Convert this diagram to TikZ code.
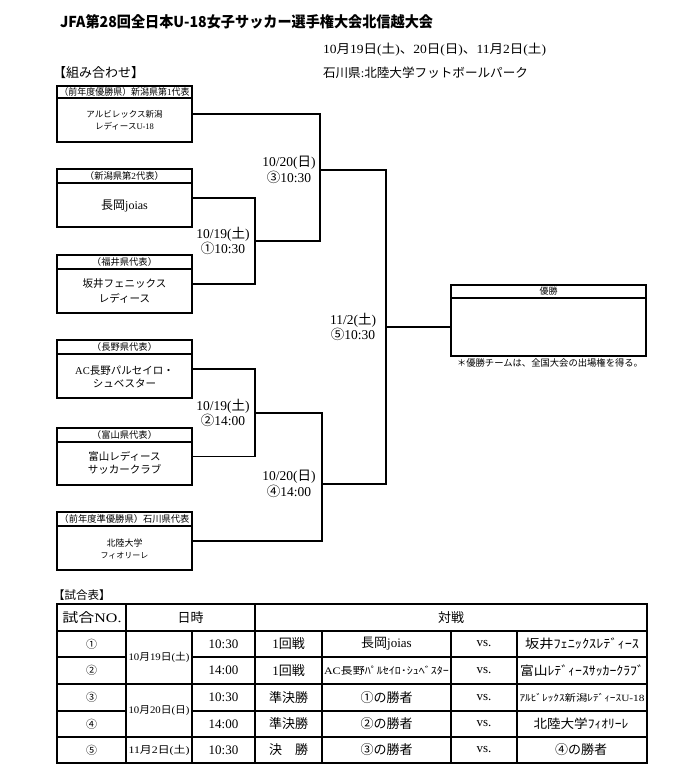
\documentclass[tikz,border=0pt]{standalone}
\usepackage{fontspec}
\usepackage{graphicx}
\setmainfont{Liberation Serif}
\newfontfamily\jpfont{Noto Sans CJK JP}
\XeTeXinterchartokenstate=1
\newXeTeXintercharclass\jpcls
\newcount\jpc
\def\setjprange#1#2{\jpc=#1\relax\loop\XeTeXcharclass\jpc=\jpcls\relax\ifnum\jpc<#2\relax\advance\jpc by 1\relax\repeat}
\setjprange{"3000}{"9FFF}
\setjprange{"FF00}{"FFEF}
\setjprange{"2460}{"24FF}
\XeTeXinterchartoks 0 \jpcls = {\jpfont}
\XeTeXinterchartoks 4095 \jpcls = {\jpfont}
\XeTeXinterchartoks \jpcls 0 = {\rmfamily}
\XeTeXinterchartoks 4095 0 = {\rmfamily}
\newcommand\fitw[2]{\resizebox{#1}{\height}{#2}}
\begin{document}
\begin{tikzpicture}[x=1pt,y=-1pt,
  every node/.style={inner sep=0pt, outer sep=0pt},
  fs/.style 2 args={font=\fontsize{#1}{#2}\selectfont},
  teambox/.style={draw, line width=1.4pt, minimum width=135pt},
  hdrbox/.style={draw, line width=1.1pt, minimum width=135pt, minimum height=14pt, anchor=north, fs={9.3}{11}},
  namebox/.style={align=center},
  bracket/.style={line width=1.5pt},
  matchlbl/.style={align=center, fs={13.5}{15.5}},
  tline/.style={line width=1.4pt},
  cell/.style={fs={13}{15}},
]
\useasboundingbox (0,0) rectangle (700,783);

% headings
\node[anchor=west, fs={15}{17}] (title) at (60,22) {\fitw{373pt}{\XeTeXinterchartokenstate=0 \jpfont\bfseries JFA第28回全日本U-18女子サッカー選手権大会北信越大会}};
\node[anchor=west, fs={12.5}{14}] (dates) at (323,50) {\fitw{223pt}{10月19日(土)、20日(日)、11月2日(土)}};
\node[anchor=west, fs={12.5}{14}] (venue) at (323,73) {\fitw{205pt}{石川県:北陸大学フットボールパーク}};
\node[anchor=west, fs={13}{15}] (kumi) at (53,73) {【組み合わせ】};

% team boxes
\node[teambox, minimum height=56pt] (t1) at (124.5,114) {};
\node[hdrbox, minimum height=12pt] (h1) at (t1.north) {\fitw{130pt}{（前年度優勝県）新潟県第1代表}};
\node[namebox, fs={8.5}{12}] (n1) at (124.5,120) {アルビレックス新潟\\レディースU-18};

\node[teambox, minimum height=58pt] (t2) at (124.5,198) {};
\node[hdrbox] (h2) at (t2.north) {（新潟県第2代表）};
\node[namebox, fs={12}{14}] (n2) at (124.5,206) {長岡joias};

\node[teambox, minimum height=58pt] (t3) at (124.5,284) {};
\node[hdrbox] (h3) at (t3.north) {（福井県代表）};
\node[namebox, fs={10.5}{15}] (n3) at (124.5,291) {坂井フェニックス\\レディース};

\node[teambox, minimum height=58pt] (t4) at (124.5,369) {};
\node[hdrbox] (h4) at (t4.north) {（長野県代表）};
\node[namebox, fs={10.5}{13}] (n4) at (124.5,377) {AC長野パルセイロ・\\シュベスター};

\node[teambox, minimum height=57pt] (t5) at (124.5,456.5) {};
\node[hdrbox] (h5) at (t5.north) {（富山県代表）};
\node[namebox, fs={10.5}{13}] (n5) at (124.5,463) {富山レディース\\サッカークラブ};

\node[teambox, minimum height=58pt] (t6) at (124.5,541) {};
\node[hdrbox] (h6) at (t6.north) {\fitw{130pt}{（前年度準優勝県）石川県代表}};
\node[namebox, fs={9}{12}] (n6) at (124.5,549) {北陸大学\\{\fontsize{8}{12}\selectfont フィオリーレ}};

% winner box
\node[draw, line width=1.4pt, minimum width=195pt, minimum height=71pt] (w) at (548.5,320.5) {};
\node[draw, line width=1.1pt, minimum width=195pt, minimum height=13pt, anchor=north, fs={9}{11}] (wh) at (w.north) {優勝};
\node[fs={9.3}{11}] (note) at (550,363) {\fitw{186pt}{＊優勝チームは、全国大会の出場権を得る。}};

% bracket
\coordinate (m1) at (255,241);
\coordinate (m2) at (255,413);
\coordinate (m3) at (320,170);
\coordinate (m4) at (322,484);
\coordinate (m5) at (386,327);
\draw[bracket] (t2.east) -| (m1) |- (t3.east);
\draw[bracket] (t4.east) -| (m2) |- (t5.east);
\draw[bracket] (t1.east) -| (m3);
\draw[bracket] (m1) -| (m3);
\draw[bracket] (m2) -| (m4) |- (t6.east);
\draw[bracket] (m3) -| (m5);
\draw[bracket] (m4) -| (m5);
\draw[bracket] (m5) -- (m5 -| w.west);

\node[matchlbl] (l3) at (289,170) {10/20(日)\\③10:30};
\node[matchlbl] (l1) at (223,241) {10/19(土)\\①10:30};
\node[matchlbl] (l5) at (353,327) {11/2(土)\\⑤10:30};
\node[matchlbl] (l2) at (223,413) {10/19(土)\\②14:00};
\node[matchlbl] (l4) at (289,484) {10/20(日)\\④14:00};

% table
\node[anchor=west, fs={11.5}{13}] (shiai) at (53,595) {【試合表】};
\draw[tline] (57,604) rectangle (647,763);
\draw[tline] (57,631) -- (647,631);
\draw[tline] (57,684) -- (647,684);
\draw[tline] (57,737) -- (647,737);
\draw[tline] (57,657) -- (126,657) (192,657) -- (647,657);
\draw[tline] (57,711) -- (126,711) (192,711) -- (647,711);
\draw[tline] (126,604) -- (126,763);
\draw[tline] (255,604) -- (255,763);
\foreach \x in {192,322,451,517} \draw[tline] (\x,631) -- (\x,763);

\node[cell] (hno) at (92,617.5) {\fitw{59pt}{試合NO.}};
\node[cell] (hdt) at (190.5,617.5) {日時};
\node[cell] (hvs) at (451,617.5) {対戦};

\node[fs={11}{13}] (r1a) at (91.5,644) {①};
\node[fs={11}{13}] (r2a) at (91.5,670.5) {②};
\node[fs={11}{13}] (r3a) at (91.5,697.5) {③};
\node[fs={11}{13}] (r4a) at (91.5,724) {④};
\node[fs={11}{13}] (r5a) at (91.5,750) {⑤};

\node[fs={10}{12}] (d12) at (159,657) {\fitw{61pt}{10月19日(土)}};
\node[fs={10}{12}] (d34) at (159,710.5) {\fitw{61pt}{10月20日(日)}};
\node[fs={10}{12}] (d5) at (159,750) {\fitw{61pt}{11月2日(土)}};

\node[cell] (r1t) at (223.5,644) {10:30};
\node[cell] (r2t) at (223.5,670.5) {14:00};
\node[cell] (r3t) at (223.5,697.5) {10:30};
\node[cell] (r4t) at (223.5,724) {14:00};
\node[cell] (r5t) at (223.5,750) {10:30};

\node[cell] (r1r) at (288.5,644) {1回戦};
\node[cell] (r2r) at (288.5,670.5) {1回戦};
\node[cell] (r3r) at (288.5,697.5) {準決勝};
\node[cell] (r4r) at (288.5,724) {準決勝};
\node[cell] (r5r) at (288.5,750) {決　勝};

\node[cell] (r1x) at (386.5,644) {長岡joias};
\node[fs={10}{12}] (r2x) at (386.5,670.5) {\fitw{125pt}{AC長野ﾊﾟﾙｾｲﾛ･ｼｭﾍﾞｽﾀｰ}};
\node[cell] (r3x) at (386.5,697.5) {①の勝者};
\node[cell] (r4x) at (386.5,724) {②の勝者};
\node[cell] (r5x) at (386.5,750) {③の勝者};

\foreach \y/\n in {644/1,670.5/2,697.5/3,724/4,750/5} \node[cell] (r\n v) at (484,\y) {vs.};

\node[fs={12.5}{14}] (r1y) at (582,644) {\fitw{114pt}{坂井ﾌｪﾆｯｸｽﾚﾃﾞｨｰｽ}};
\node[fs={12.5}{14}] (r2y) at (582,670.5) {\fitw{124pt}{富山ﾚﾃﾞｨｰｽｻｯｶｰｸﾗﾌﾞ}};
\node[fs={9.5}{11}] (r3y) at (582,697.5) {\fitw{125pt}{ｱﾙﾋﾞﾚｯｸｽ新潟ﾚﾃﾞｨｰｽU-18}};
\node[fs={12.5}{14}] (r4y) at (581,724) {\fitw{95pt}{北陸大学ﾌｨｵﾘｰﾚ}};
\node[cell] (r5y) at (581,750) {④の勝者};
\end{tikzpicture}
\end{document}
